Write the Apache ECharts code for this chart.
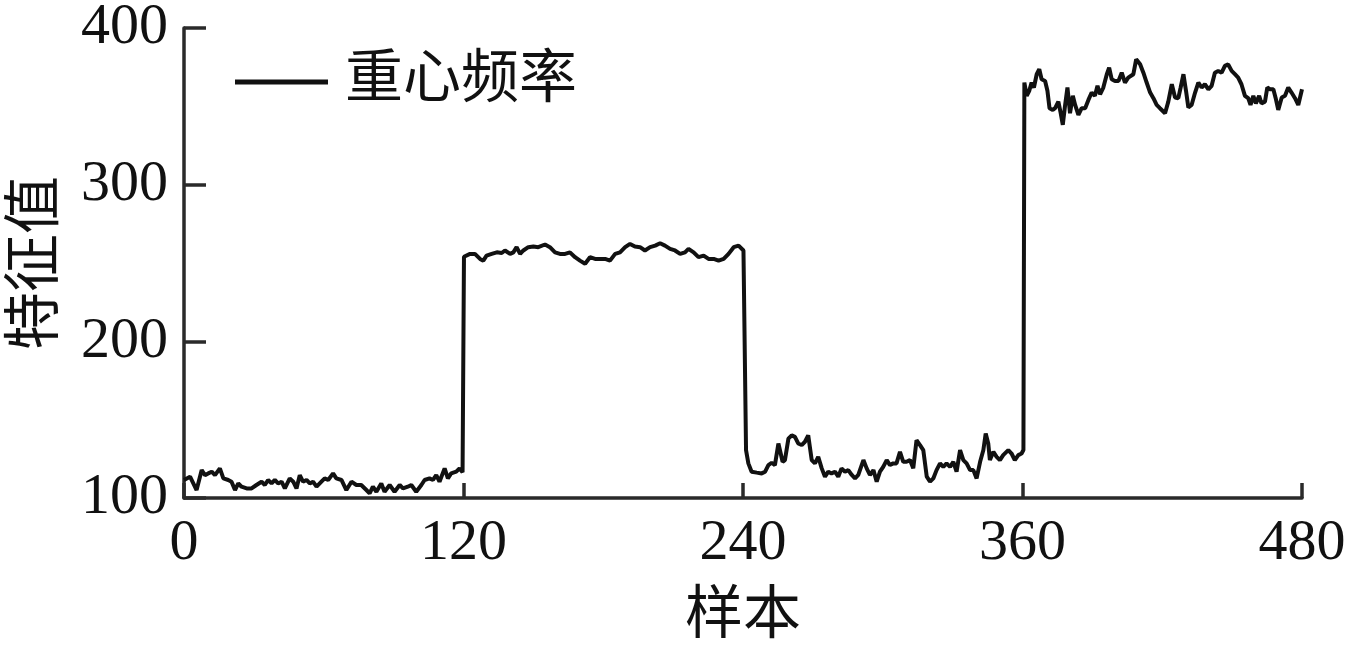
<!DOCTYPE html>
<html>
<head>
<meta charset="utf-8">
<script src="https://cdn.jsdelivr.net/npm/echarts@6/dist/echarts.min.js"></script>
<style>
html,body{margin:0;padding:0;background:#fff;}
#chart{width:1349px;height:654px;}
</style>
</head>
<body>
<div id="chart"></div>
<script>
// sample positions
const sampleX = [
0,2.6,5.4,7.6,9,10.4,11.9,13.3,15.4,16.9,19,20.4,21.9,23.3,24.7,26.9,29,31.1,33.3,34.7,36.1,37.6,39,40.4,41.9,43.3,45.4,46.9,48.3,49.7,51.1,52.6,54,55.4,56.9,59,60.4,61.9,64,65.4,67.6,69.7,71.9,74,76.1,78.3,79.7,81.1,82.6,84.7,86.1,88.3,90.4,92.6,94,96.1,97.6,99.7,101.9,103.3,105.4,106.9,108.3,109.7,111.9,113.3,114.7,116.9,118.3,119.6,
120.2,122.8,124.9,127.1,128.5,129.9,132.1,134.3,136.4,137.8,140,141.4,142.8,144.3,145.7,147.8,150,152.1,155,157.1,159.3,161.4,163.6,165.7,167.9,170,172.2,174.3,176.5,178.6,180.8,182.9,185.1,187.2,189.4,191.5,193.6,195.8,197.9,200.1,202.3,204.4,206.5,208.7,210.8,213,215.1,216.6,218.8,220.9,223.1,225.2,227.4,229.5,231.7,233.8,236,238.1,240.2,
241.3,242.3,243.7,245.9,248,249.5,250.9,252.3,253.7,255.2,255.9,257,258,259.5,260.9,262.3,263.7,265.2,266.6,268,269.5,270.9,272.3,273.8,275.2,276.6,278,279.5,280.9,282.3,283.8,285.2,286.7,288.1,289.5,291.7,293.1,294.5,296,297.4,298.8,300.2,301.7,303.1,304.5,305.9,307.4,308.8,310.2,311.7,313.1,314.5,316,317.4,318.9,320.3,321.7,323.1,324.6,326,327.4,328.9,330.3,331.7,333.2,334.6,336,337.5,338.9,340.3,341.8,343.2,344.2,345.3,346,347.5,348.9,350.3,351.7,353.9,355.3,356.7,358.2,359.6,360.4,
360.8,361.8,362.9,363.9,364.9,366.1,367.2,368.2,369.7,370.7,371.6,373,374,375.4,376.4,377.3,378.3,379.3,380.4,381.6,382.6,384,385.4,386.9,388.3,389.7,391.1,392.2,393.3,394.7,396.2,397.2,398.3,399.7,401.2,402.6,404,405.4,407.6,408.8,410.5,411.9,413.3,414.8,416.2,417.6,419,421.2,422.6,424.1,425.5,426.9,427.9,429.1,430.2,431.2,432.6,434.1,435.5,436.9,438.3,439.8,441.2,442.6,444,445.5,446.9,448.3,449.8,451.2,452.6,454,455.5,456.9,457.9,459.1,460.2,461.6,462.6,464.1,465.1,466.2,467.7,468.7,469.8,471.3,472.7,474.1,475.5,477,478.4,480
];
// 重心频率 values
const centroidFreq = [
111.5,113.6,105.1,117.8,114.6,115.7,116.8,114.6,118.9,112.5,111.5,110.4,105.1,109.3,107.2,106.1,106.1,108.3,110.4,108.3,111.5,109.3,111.5,109.3,110.4,106.1,112.5,110.4,106.1,114.6,110.4,111.5,109.3,110.4,107.2,110.4,112.5,111.5,115.7,112.5,111.5,105.1,110.4,108.3,108.3,105.1,103,107.2,104,109.3,104,108.3,104,108.3,106.1,107.2,108.3,104,108.3,111.5,112.5,111.5,114.6,110.4,118.9,112.5,115.7,116.8,118.9,116.5,
254,255.8,255.8,252.6,251.5,254.7,255.8,256.8,256.4,258,255.8,256.8,260.1,255.8,258,260.1,260.5,260.1,261.8,260.1,256.8,255.8,255.8,256.8,253.7,251.5,249.5,253.7,252.6,252.6,252.6,251.5,255.8,256.8,260.1,262.2,260.5,260.1,258,260.1,261.1,262.6,261.1,259,258,255.8,256.8,259,256.8,253.7,254.7,252.6,252.6,251.5,252.6,255.8,260.1,261.1,258,
130.6,122.1,116.8,116.2,115.7,116.8,121,122.5,121,134.8,135.9,123.1,124.2,137.9,140,139,134.8,133.8,135.9,140,124.2,122.1,126.3,118.9,113.6,116.8,115.7,116.8,113.6,118.9,116.8,117.8,114.7,112.5,114.7,124.2,118.9,114.7,117.8,110.4,116.8,119.9,124.2,121,122.1,122.1,129.5,123.1,123.1,124.2,118.9,136.9,133.8,130.6,113.6,110.4,112.5,117.8,122.1,119.9,122.1,119.9,123.1,116.8,130.6,124.2,122.1,117.8,117.8,112.5,123.1,130.6,141.2,134.8,124.2,129.5,126.3,124.2,127.4,130.6,128.4,124.2,127.4,128.4,130.6,
365.2,356.7,359.9,365.2,362,370.5,373.7,367.3,366.2,359.9,348.8,347.7,348.8,353,345.6,338.2,350.9,362,345.6,356.7,350.9,344.5,348.8,348.8,354.1,358.8,356.7,363.1,357.7,362,370.5,374.7,367.3,366.2,366.2,371.5,365.2,368.3,370.5,380,376.8,371.5,365.2,358.8,355.2,350.9,348.8,345.6,353,364.1,355.6,355.2,362,370.5,359.9,349.3,350.9,358.8,365.2,362,364.1,360.9,363.1,371.5,372.6,371.5,375.8,376.8,372.6,370.5,368.3,364.1,356.7,355.2,350.9,356.7,351.9,356.7,351.9,353,362,360.9,360.9,355.2,347.7,355.6,356.7,362,358.8,355.2,350.9,360.9
];
const xTicks = [0, 120, 240, 360, 480];
const yTicks = [100, 200, 300, 400];
const seriesName = '重心频率';
const xName = '样本';
const yName = '特征值';

const pairs = sampleX.map((x, i) => [x, centroidFreq[i]]);
const FONT = "'Liberation Serif', 'Noto Sans CJK SC', serif";
const FS = 58;
const chart = echarts.init(document.getElementById('chart'));
chart.setOption({
  animation: false,
  backgroundColor: '#fff',
  grid: { left: 184, right: 47, top: 28, bottom: 156, containLabel: false, outerBoundsMode: 'none' },
  legend: {
    left: 235, top: 53, padding: 0,
    itemWidth: 93, itemHeight: 14,
    data: [{ name: seriesName, icon: 'path://M0,0 L93,0 L93,5 L0,5 Z' }],
    itemStyle: { color: '#111' },
    textStyle: { fontSize: FS, fontFamily: FONT, color: '#111', padding: [0, 0, 0, 12] }
  },
  xAxis: {
    type: 'value', min: xTicks[0], max: xTicks[xTicks.length - 1], interval: 120,
    name: xName, nameLocation: 'middle', nameGap: 120,
    nameTextStyle: { fontSize: FS, fontFamily: FONT, color: '#111', verticalAlign: 'middle' },
    axisLine: { show: true, lineStyle: { color: '#2a2a2a', width: 3.5 } },
    axisTick: { show: true, inside: true, length: 15, lineStyle: { color: '#2a2a2a', width: 3.5 } },
    axisLabel: { fontSize: FS, fontFamily: FONT, color: '#111', margin: 17 },
    splitLine: { show: false }
  },
  yAxis: {
    type: 'value', min: yTicks[0], max: yTicks[yTicks.length - 1], interval: 100,
    name: yName, nameLocation: 'middle', nameGap: 146, nameRotate: 90,
    nameTextStyle: { fontSize: FS, fontFamily: FONT, color: '#111', verticalAlign: 'middle' },
    axisLine: { show: true, lineStyle: { color: '#2a2a2a', width: 3.5 } },
    axisTick: { show: true, inside: true, length: 22, lineStyle: { color: '#2a2a2a', width: 3.5 } },
    axisLabel: { fontSize: FS, fontFamily: FONT, color: '#111', margin: 16 },
    splitLine: { show: false }
  },
  series: [{
    name: seriesName, type: 'line', data: pairs,
    symbol: 'none', smooth: false,
    lineStyle: { color: '#111', width: 4 },
    itemStyle: { color: '#111' }
  }]
});
</script>
</body>
</html>
